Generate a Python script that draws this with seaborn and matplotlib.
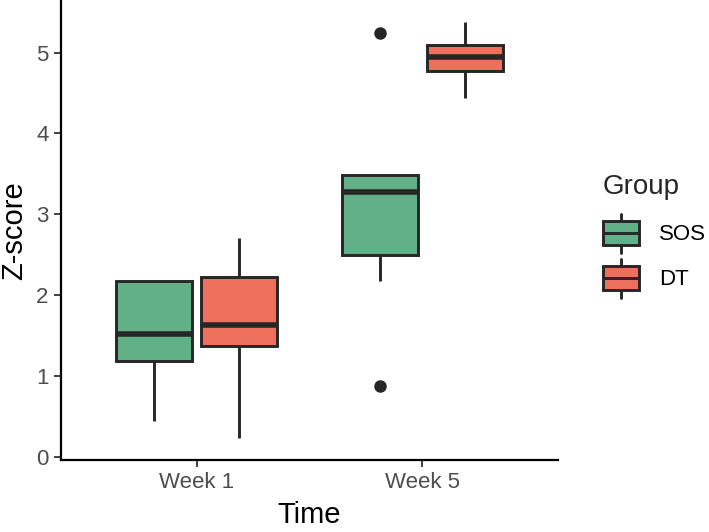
import matplotlib
matplotlib.use("Agg")
import matplotlib.pyplot as plt
import seaborn as sns
import pandas as pd
from matplotlib.patches import Patch, Rectangle
from matplotlib.lines import Line2D
from matplotlib.legend_handler import HandlerBase

# ---- data ----
times = ["Week 1", "Week 5"]
groups = ["SOS", "DT"]
sos_week1 = [0.44, 1.19, 1.52, 2.18, 2.18]
dt_week1 = [0.23, 1.37, 1.63, 2.22, 2.71]
sos_week5 = [0.87, 2.18, 2.50, 2.90, 3.27, 3.40, 3.49, 3.49, 5.24]
dt_week5 = [4.44, 4.77, 4.95, 5.09, 5.38]
y_ticks = [0, 1, 2, 3, 4, 5]

colors = {"SOS": "#62B088", "DT": "#EC705C"}
dark = "#262626"

rows = []
for t, g, vals in [("Week 1", "SOS", sos_week1), ("Week 1", "DT", dt_week1),
                   ("Week 5", "SOS", sos_week5), ("Week 5", "DT", dt_week5)]:
    for v in vals:
        rows.append({"Time": t, "Group": g, "Z-score": v})
df = pd.DataFrame(rows)

sns.set_theme(style="white")
plt.rcParams["font.family"] = ["Liberation Sans", "DejaVu Sans"]

fig = plt.figure(figsize=(7.09, 5.32), dpi=100)
ax = fig.add_axes([61 / 709, 1 - 460 / 532, (558 - 61) / 709, (460 - 1) / 532])

sns.boxplot(data=df, x="Time", y="Z-score", hue="Group", order=times,
            hue_order=groups, palette=colors, width=0.75, gap=0.1,
            linewidth=2.1, linecolor=dark, showcaps=False, whis=1.5,
            saturation=1, legend=False,
            medianprops=dict(linewidth=4, color=dark),
            flierprops=dict(marker="o", markersize=8, markerfacecolor=dark,
                            markeredgecolor=dark),
            ax=ax)

ax.set_xlim(-0.6, 1.6)
ax.set_ylim(-0.04, 5.6375)
ax.set_yticks(y_ticks)
ax.set_yticklabels([str(v) for v in y_ticks])

for s in ["top", "right"]:
    ax.spines[s].set_visible(False)
for s in ["left", "bottom"]:
    ax.spines[s].set_color("black")
    ax.spines[s].set_linewidth(1.6)

ax.tick_params(axis="both", which="both", length=5, width=1.3, color="#333333",
               labelsize=16, labelcolor="#4D4D4D", pad=4, left=True, bottom=True)

ax.set_xlabel("Time", fontsize=21, color="black")
ax.set_ylabel("Z-score", fontsize=21, color="black")
ax.xaxis.set_label_coords(0.5, -0.089)
ax.yaxis.set_label_coords(-0.066, 0.5)


class BoxHandler(HandlerBase):
    def create_artists(self, legend, orig_handle, xdescent, ydescent,
                       width, height, fontsize, trans):
        x0, y0 = -xdescent, -ydescent
        fc = orig_handle.get_facecolor()
        bh = height * 0.62
        by = y0 + (height - bh) / 2
        rect = Rectangle((x0, by), width, bh, facecolor=fc, edgecolor=dark,
                         linewidth=2.1, transform=trans)
        med = Line2D([x0, x0 + width], [y0 + height / 2] * 2, color=dark,
                     linewidth=2.1, transform=trans)
        cx = x0 + width / 2
        w1 = Line2D([cx, cx], [y0, by], color=dark, linewidth=2.1, transform=trans)
        w2 = Line2D([cx, cx], [by + bh, y0 + height], color=dark, linewidth=2.1,
                    transform=trans)
        return [w1, w2, rect, med]


handles = [Patch(facecolor=colors[g]) for g in groups]
leg = fig.legend(handles, groups, title="Group", loc="upper left",
                 bbox_to_anchor=(603 / 709, 1 - 174 / 532), frameon=False,
                 borderpad=0, borderaxespad=0, fontsize=16, title_fontsize=20,
                 handlelength=1.62, handleheight=2.32, handletextpad=0.9,
                 labelspacing=0.27, alignment="left",
                 handler_map={Patch: BoxHandler()})
leg._legend_box.sep = 10
for t in leg.get_texts():
    t.set_color("black")

fig.savefig("out.png", dpi=100)
